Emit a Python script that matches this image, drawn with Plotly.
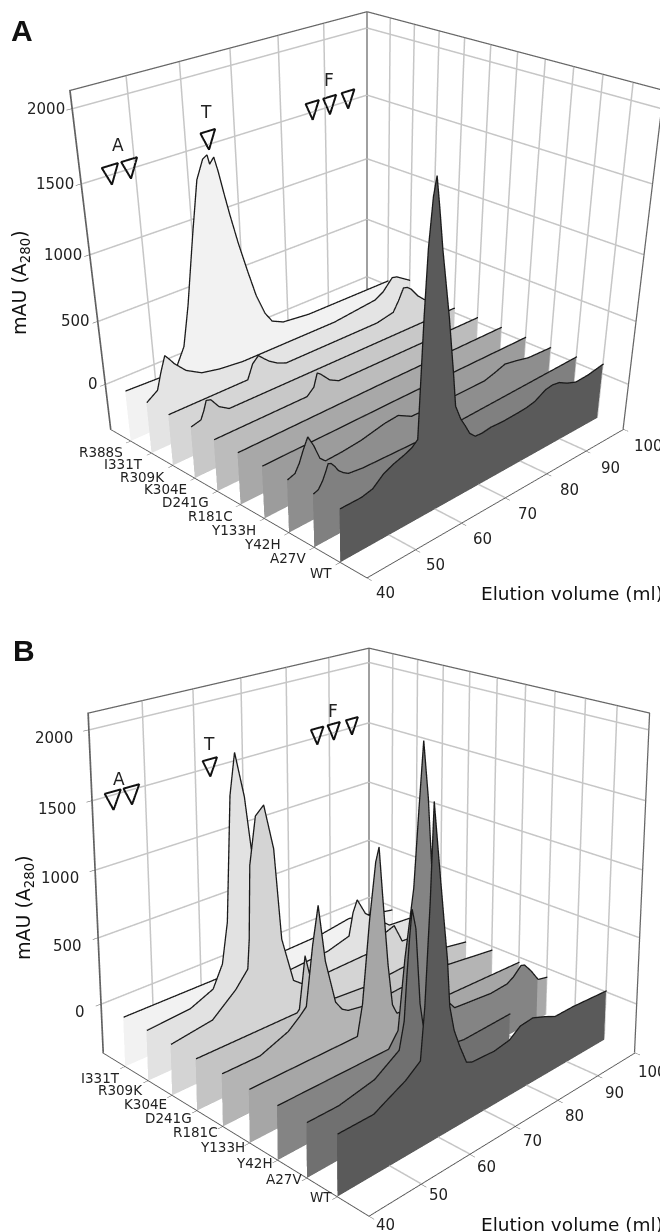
import numpy as np
import plotly.graph_objects as go

# ---------- data: elution volume (ml) and absorbance (mAU) ----------
A_names = ["WT","A27V","Y42H","Y133H","R181C","D241G","K304E","R309K","I331T","R388S"]
A_baseline = 40
A_WT_x = [40,44.2,46.5,48.7,50.8,52.9,54.5,55.7,56.4,56.9,57.6,58.2,58.9,59.8,61.6,63,63.7,65,66,67.2,68.5,70,72.1,75,78.5,80.5,82.5,84,85,86.7,88.4,90.5,92.8,96,100]
A_WT_z = [0,0,20,90,125,150,175,214,1075,1510,1820,1940,1740,1460,990,560,320,200,135,50,5,0,10,5,10,15,30,60,80,90,80,40,10,15,40]
A_A27V_x = [40,41,41.8,42.5,43,43.6,44.3,45,46,47,50,70,100]
A_A27V_z = [0,15,60,120,170,160,125,80,45,20,5,-20,10]
A_Y42H_x = [40,41.5,42.4,43.2,44.2,45.3,46.5,47.6,51,55,60,63,66,76,80,83,85.5,88,91,94,100]
A_Y42H_z = [0,20,80,160,245,160,40,0,5,20,60,70,10,0,0,0,25,55,35,10,0]
A_Y133H_x = [40,70,100]
A_Y133H_z = [0,5,0]
A_R181C_x = [40,70,100]
A_R181C_z = [0,5,0]
A_D241G_x = [40,59.2,60.7,61.5,62.2,63.2,64.2,66.2,100]
A_D241G_z = [0,0,50,150,130,90,50,10,0]
A_K304E_x = [40,42,42.7,43.3,44.2,45.7,47.7,100]
A_K304E_z = [0,20,80,150,140,60,10,0]
A_R309K_x = [40,56.3,57.5,58.8,60,61,62.8,64.7,78,86,90,91.3,92.5,93.5,94.5,96.2,98,100]
A_R309K_z = [0,0,110,155,110,75,30,0,0,0,30,110,200,190,160,80,20,0]
A_I331T_x = [40,42.3,43.3,44.3,45.1,46,48.2,51.3,55,60,81,91,93,95.3,96.5,100]
A_I331T_z = [0,60,190,300,260,210,120,50,20,0,0,40,80,170,160,80]
A_R388S_x = [40,48,50.2,52.3,53.8,55.8,57.4,58.8,59.7,60.1,61,61.7,62.6,63.5,65,66.6,68.2,70,71.5,74,80,100]
A_R388S_z = [0,-10,0,157,463,973,1350,1480,1500,1430,1470,1360,1190,1028,780,549,330,157,70,25,0,0]

B_names = ["WT","A27V","Y42H","Y133H","R181C","D241G","K304E","R309K","I331T"]
B_WT_x = [40,46.8,49,53,56,56.8,57.7,58.3,59.4,60.5,61.4,62,63,64.3,65.8,67,72,75.5,78,81,84,86.5,91,100]
B_WT_z = [40,40,80,150,230,580,1260,1890,1500,1120,820,500,320,185,50,30,20,40,100,110,70,30,30,10]
B_A27V_x = [40,46,53,58,59,59.5,60,60.5,61.3,62.3,63.5,64.5,66,72,83]
B_A27V_z = [0,0,50,165,350,650,900,1090,950,420,140,80,40,0,10]
B_Y42H_x = [40,62,64,65.4,67.2,68.2,69.1,70.2,71.4,72.9,74.7,76.7,85.4,89.4,91,92.9,93.8,95.5,97.5]
B_Y42H_z = [0,0,100,593,1060,1600,2050,1650,990,393,150,60,30,40,70,130,120,50,-50]
B_Y42H_end_x = [97.5,100]
B_Y42H_end_z = [-50,-70]
B_Y133H_x = [40,61.4,62.5,64,65.3,66,66.8,68,69,70,81,100]
B_Y133H_z = [0,0,220,800,1195,1290,930,420,110,30,-20,-40]
B_R181C_x = [40,47.2,52.8,55.1,56.5,57.9,59.1,60.5,62.6,64,65.3,70,87,100]
B_R181C_z = [0,0,80,150,200,620,890,470,135,60,30,0,30,-30]
B_D241G_x = [40,60,60.5,61.4,61.8,63.5,66,68.5,75.5,84.5,92,100]
B_D241G_z = [0,0,20,280,400,120,0,-20,-40,-20,0,-50]
B_K304E_x = [40,48,52.7,55.2,55.6,56,57.3,59,60.9,62.3,64.7,66.7,83,86,88,90,100]
B_K304E_z = [0,45,195,310,525,1060,1400,1460,1120,430,78,20,35,145,170,15,0]
B_R309K_x = [40,48.4,53,55,56.2,57.3,58.4,60.2,62.2,63,66,69.5,78,83,84,85,87,93,100]
B_R309K_z = [0,25,100,260,560,1480,1780,1440,780,380,40,0,20,70,250,340,200,20,0]
B_I331T_x = [40,72.7,81.6,88.8,100]
B_I331T_z = [0,0,10,50,-30]

x_ticks = [40,50,60,70,80,90,100]
z_ticks = [0,500,1000,1500,2000]
x_range = [40,100]
z_range = [-375,2120]
marker_letters = ["A","T","F"]
A_marker_x = [45.4,49,64.5,87,91,95.3]
A_marker_z = [1500,1500,1530,1510,1510,1510]
A_letter_x = [47.3,64.5,91]
A_letter_z = [1680,1730,1700]
B_marker_x = [43.8,47.3,63,87,91,95.5]
B_marker_z = [1460,1460,1500,1510,1510,1510]
B_letter_x = [45.2,63,91]
B_letter_z = [1600,1680,1680]

A_series = [(A_WT_x,A_WT_z,1,"#5a5a5a"),(A_A27V_x,A_A27V_z,2,"#808080"),(A_Y42H_x,A_Y42H_z,3,"#8e8e8e"),(A_Y133H_x,A_Y133H_z,4,"#9c9c9c"),
            (A_R181C_x,A_R181C_z,5,"#a8a8a8"),(A_D241G_x,A_D241G_z,6,"#bcbcbc"),(A_K304E_x,A_K304E_z,7,"#c8c8c8"),
            (A_R309K_x,A_R309K_z,8,"#d6d6d6"),(A_I331T_x,A_I331T_z,9,"#e4e4e4"),(A_R388S_x,A_R388S_z,10,"#f2f2f2")]
B_series = [(B_WT_x,B_WT_z,1,"#5a5a5a"),(B_A27V_x,B_A27V_z,2,"#707070"),(B_Y42H_x,B_Y42H_z,3,"#848484"),(B_Y42H_end_x,B_Y42H_end_z,3,"#a8a8a8"),
            (B_Y133H_x,B_Y133H_z,4,"#a6a6a6"),(B_R181C_x,B_R181C_z,5,"#b4b4b4"),(B_D241G_x,B_D241G_z,6,"#c4c4c4"),
            (B_K304E_x,B_K304E_z,7,"#d4d4d4"),(B_R309K_x,B_R309K_z,8,"#e2e2e2"),(B_I331T_x,B_I331T_z,9,"#f2f2f2")]

W, H = 660, 1224   # the page adds an 8 px body margin
A_view = (0.6382, 3.7174, -0.8619, 0.9203)   # pitch, distance, shift, z-aspect
B_view = (0.2222, 3.7454, 0.6605, 0.9387)
scene_h = 1200

def cam(p):
    phi,D,s,k = p
    F = np.array([np.cos(phi)/np.sqrt(2), np.cos(phi)/np.sqrt(2), -np.sin(phi)])
    R = np.array([1,-1,0])/np.sqrt(2)
    U = np.cross(R, F)
    C = -D*F + s*U
    c = C + D*F
    return dict(eye=dict(x=C[0],y=C[1],z=C[2]), center=dict(x=c[0],y=c[1],z=c[2]), up=dict(x=0,y=0,z=1),
                projection=dict(type="perspective"))

fig = go.Figure()
def add_panel(series, n_names, scene, ymax, mx_list, mz_list, base):
    x0,x1 = x_range; z0,z1 = z_range
    # pull the wall lines just inside the box so the scene's clipping does not eat them
    ex, ey, ez = 0.06, 0.012, 3
    xa,xb,ya,yb,za,zb = x0+ex,x1-ex,ey,ymax-ey,z0+ez,z1-ez
    gx=[];gy=[];gz=[]
    for t in x_ticks[1:-1]:
        gx+=[t,t,t,None]; gy+=[ya,yb,yb,None]; gz+=[za,za,zb,None]
    for t in z_ticks:
        gx+=[xa,xb,xb,None]; gy+=[yb,yb,ya,None]; gz+=[t,t,t,None]
    for t in range(1,n_names+1):
        gx+=[xb,xb,None]; gy+=[t,t,None]; gz+=[za,zb,None]
    fig.add_trace(go.Scatter3d(x=gx,y=gy,z=gz,mode="lines",line=dict(color="#c6c6c6",width=3),hoverinfo="skip",showlegend=False,scene=scene))
    for xs,zs,yi,c in series:
        xs = np.array(xs,float); zs = np.array(zs,float)+base; n=len(xs)
        vx = np.r_[xs,xs]; vz = np.r_[zs,np.full(n,z0)]; vy = np.full(2*n,yi)
        ii=[];jj=[];kk=[]
        for m in range(n-1):
            ii += [m,m+1]; jj += [m+1,m+n+1]; kk += [m+n,m+n]
        fig.add_trace(go.Mesh3d(x=vx,y=vy,z=vz,i=ii,j=jj,k=kk,color=c,flatshading=True,
            lighting=dict(ambient=1,diffuse=0,specular=0,roughness=1,fresnel=0),hoverinfo="skip",scene=scene,showscale=False))
        fig.add_trace(go.Scatter3d(x=xs,y=np.full(n,yi-0.02),z=zs,mode="lines",line=dict(color="#1a1a1a",width=2.6),
            hoverinfo="skip",showlegend=False,scene=scene))
    fx=[xa,xa,xb,xb,xb,xb,None,xb,xb]; fy=[yb,yb,yb,yb,ya,ya,None,yb,yb]; fz=[za,zb,zb,zb,zb,za,None,za,zb]
    fig.add_trace(go.Scatter3d(x=fx,y=fy,z=fz,mode="lines",line=dict(color="#666666",width=2.5),hoverinfo="skip",showlegend=False,scene=scene))
    dx, dz = 1.5, 66
    for mx,mz in zip(mx_list,mz_list):
        fig.add_trace(go.Scatter3d(x=[mx-dx,mx+dx,mx,mx-dx,mx+dx],y=[ymax-.03]*5,z=[mz+dz,mz+dz,mz-dz,mz+dz,mz+dz],mode="lines",
            line=dict(color="#111111",width=4),hoverinfo="skip",showlegend=False,scene=scene))

add_panel(A_series,10,"scene",11,A_marker_x,A_marker_z,A_baseline)
add_panel(B_series,9,"scene2",10,B_marker_x,B_marker_z,0)

def labels(names,ymax,lx_list,lz_list,panel):
    ann=[]
    f=lambda s:dict(family="DejaVu Sans",size=s,color="#222222")
    for i,t in enumerate(x_ticks):
        if panel=="A":
            xs,ys = 19+i, -15-i*0.3
        else:
            xs,ys = 17, -9-i*10/6
        ann.append(dict(x=t,y=0,z=z_range[0],text=str(t),showarrow=False,xshift=xs,yshift=ys,font=f(15)))
    for t in z_ticks:
        xs,ys = (-5,0) if panel=="A" else (-14,-8)
        ann.append(dict(x=x_range[0],y=ymax,z=t,text=str(t),showarrow=False,xanchor="right",xshift=xs,yshift=ys,font=f(15)))
    for i,nm in enumerate(names):
        ys = -11 if panel=="A" else -i*11/8
        xs = -6 if panel=="A" else -3
        ann.append(dict(x=x_range[0],y=i+1,z=z_range[0],text=nm,showarrow=False,xanchor="right",xshift=xs,yshift=ys,font=f(13.5)))
    for lx,lz,t in zip(lx_list,lz_list,marker_letters):
        ann.append(dict(x=lx,y=ymax,z=lz,text=t,showarrow=False,font=f(17)))
    return ann

def axes(names,ymax,lx,lz,panel):
    common = dict(showbackground=False,showgrid=False,zeroline=False,showspikes=False,showticklabels=False,
                  showline=True,linecolor="#555555",linewidth=2,ticks="outside",ticklen=5,tickcolor="#555555",title=dict(text=""))
    return dict(xaxis=dict(range=x_range,tickvals=x_ticks,**common),
                yaxis=dict(range=[0,ymax],tickvals=list(range(1,len(names)+1)),ticktext=names,**common),
                zaxis=dict(range=z_range,tickvals=z_ticks,**common),aspectmode="manual",annotations=labels(names,ymax,lx,lz,panel))

fig.update_layout(width=W,height=H,margin=dict(l=0,r=0,t=0,b=0),paper_bgcolor="white",showlegend=False,
    scene=dict(domain=dict(x=[58/W,1],y=[1-scene_h/H,1]),camera=cam(A_view),aspectratio=dict(x=1,y=1,z=A_view[3]),**axes(A_names,11,A_letter_x,A_letter_z,"A")),
    scene2=dict(domain=dict(x=[62/W,1],y=[0,scene_h/H]),camera=cam(B_view),aspectratio=dict(x=1,y=1,z=B_view[3]),**axes(B_names,10,B_letter_x,B_letter_z,"B")))

def note(text,x,y,size=15,angle=0,bold=False):
    fig.add_annotation(text=text,x=(x-8)/W,y=1-(y-8)/H,xref="paper",yref="paper",showarrow=False,textangle=angle,xanchor="center",yanchor="middle",
        font=dict(family="Liberation Sans" if bold else "DejaVu Sans",size=size,color="#111111"))
note("<b>A</b>",22,30,size=30,bold=True)
note("<b>B</b>",24,650,size=30,bold=True)
note("mAU (A<sub>280</sub>)",20,283,size=19,angle=-90)
note("mAU (A<sub>280</sub>)",24,908,size=19,angle=-90)
note("Elution volume (ml)",572,593,size=18.5)
note("Elution volume (ml)",572,1224,size=18.5)

fig.write_html("out.html")
